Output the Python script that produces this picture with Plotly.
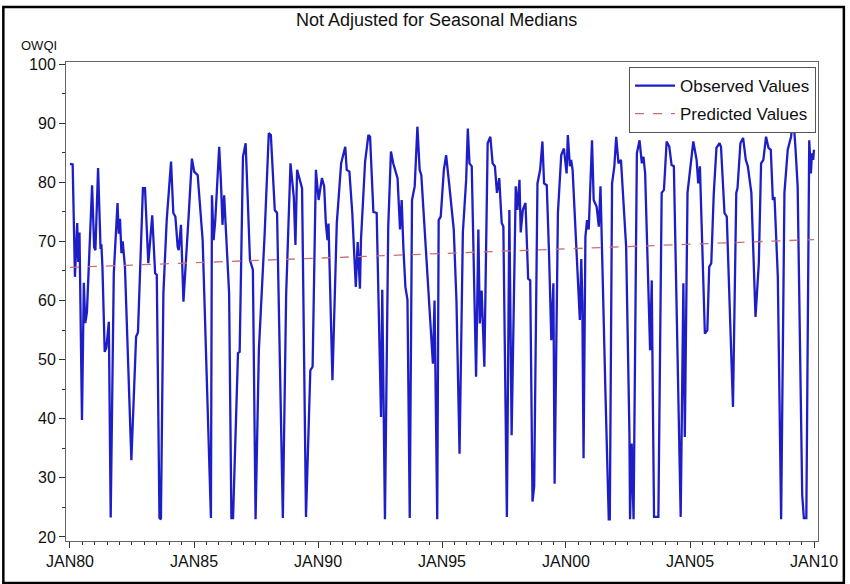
import pandas as pd
import plotly.graph_objects as go

# month offsets from JAN80 of observed-line vertices, and their OWQI values
obs_month = [0, 1.3, 2.4, 3.5, 4.0, 4.6, 5.8, 6.7, 7.4, 8.2, 10.7, 11.7, 12.3, 13.6, 14.8, 15.2, 15.7, 16.8, 17.6, 18.8,
             19.7, 21.2, 23.0, 23.6, 24.2, 24.9, 25.5, 26.6, 29.7, 32.0, 32.9, 35.3, 36.3, 37.9, 39.8, 41.2, 42.0, 43.3, 44.0,
             45.2, 46.8, 48.9, 50.0, 51.0, 52.1, 52.6, 53.7, 54.9, 57.4, 59.0, 60.1, 61.8, 64.2, 68.2, 68.7, 69.5, 70.3,
             72.2, 73.0, 73.8, 74.6, 77.0, 78.1, 78.9, 81.3, 82.1, 83.7, 85.0, 87.1, 88.5, 89.8, 91.4, 94.2, 96.2, 97.2,
             99.1, 100.2, 103.0, 104.6, 106.7, 108.3, 109.1, 109.9, 112.3, 114.2, 116.3, 117.4, 119.0, 120.3, 121.9, 123.0,
             123.8, 124.6, 125.1, 127.0, 129.1, 131.2, 133.2, 133.9, 135.2, 136.6, 138.3, 139.2, 140.3, 140.8, 142.8, 144.4,
             145.2, 146.8, 148.4, 150.5, 151.1, 151.6, 152.4, 154.0, 155.3, 156.4, 158.5, 159.7, 160.5, 161.3, 162.3, 163.3,
             164.4, 165.5, 166.8, 168.1, 169.2, 170.0, 172.4, 174.8, 175.6, 176.4, 177.7, 178.4, 179.4, 180.9, 182.0, 183.6,
             185.7, 187.0, 188.5, 190.1, 191.7, 192.5, 193.3, 194.4, 196.5, 197.6, 198.3, 199.2, 199.7, 200.5, 202.1, 203.4,
             204.5, 205.6, 206.6, 207.7, 208.9, 209.7, 211.4, 212.6, 213.7, 215.0, 215.7, 216.5, 217.5, 218.1, 219.1, 220.4,
             221.7, 222.7, 223.8, 224.6, 226.2, 227.5, 228.6, 229.4, 230.7, 231.8, 232.9, 233.9, 234.5, 236.1, 237.7, 239.0,
             240.3, 240.9, 241.9, 242.5, 243.2, 246.7, 247.4, 247.9, 248.5, 249.4, 250.2, 251.0, 252.6, 253.4, 254.8, 255.9,
             256.7, 259.1, 260.7, 261.2, 262.3, 263.4, 264.3, 265.4, 266.6, 269.1, 270.7, 271.0, 271.8, 272.7, 274.3, 275.6,
             276.7, 277.5, 278.3, 280.7, 281.5, 282.0, 282.6, 284.7, 286.3, 287.4, 288.7, 290.0, 291.1, 292.2, 295.5, 296.8,
             297.5, 298.8, 299.9, 301.6, 303.2, 304.0, 304.8, 307.2, 308.4, 309.3, 310.3, 311.5, 312.8, 314.3, 315.0, 316.7,
             317.8, 320.8, 322.4, 323.0, 324.4, 325.7, 327.0, 328.0, 329.7, 331.7, 333.3, 334.4, 335.5, 336.8, 338.0, 339.1,
             340.1, 340.9, 342.5, 344.1, 345.7, 347.3, 348.9, 350.0, 351.0, 352.1, 354.3, 355.1, 356.3, 357.7, 358.5, 359.0,
             359.6, 360.0]
obs_value = [83.1, 83.0, 64.0, 73.1, 66.5, 71.5, 39.8, 63.0, 56.2, 58.0, 79.5, 69.0, 68.5, 82.4, 68.7, 69.5, 65.7, 51.3, 52.0, 56.4,
             23.3, 64.6, 76.5, 71.3, 73.8, 68.0, 70.0, 65.7, 33.0, 53.9, 54.6, 79.0, 79.0, 66.3, 74.4, 64.6, 64.3, 23.2, 23.0,
             61.2, 73.6, 83.5, 74.8, 74.2, 69.1, 68.5, 72.8, 59.8, 74.2, 84.0, 81.8, 81.2, 70.2, 23.2, 77.8, 70.2, 73.6,
             86.0, 80.4, 72.8, 77.8, 61.2, 23.2, 23.2, 51.1, 51.3, 84.3, 86.6, 66.8, 65.2, 23.0, 51.6, 71.3, 88.3, 88.0,
             75.3, 74.8, 23.2, 61.0, 83.2, 77.5, 69.4, 82.1, 79.0, 23.4, 48.2, 48.8, 82.1, 77.0, 80.7, 79.3,
             73.1, 70.2, 73.0, 46.5, 73.1, 83.2, 86.0, 82.1, 81.8, 74.8, 62.3, 69.9, 62.0, 70.2, 83.5, 88.0,
             87.7, 75.0, 74.8, 40.3, 61.8, 47.0, 23.0, 72.5, 85.2, 83.2, 80.7, 72.0, 77.0, 69.1, 62.3, 60.1,
             23.2, 77.0, 79.3, 89.4, 82.1, 81.2, 67.4, 52.4, 49.3, 60.0, 23.0, 73.6, 74.2, 82.1, 84.6, 79.3,
             72.0, 60.0, 34.1, 71.5, 80.4, 89.1, 83.2, 82.7, 47.1, 72.0, 56.1, 61.7, 56.1, 48.8, 86.6, 87.7,
             83.2, 82.7, 78.2, 80.7, 73.1, 72.5, 23.4, 75.3, 37.2, 69.0, 79.3, 75.3, 80.4, 71.5, 75.3, 76.5,
             63.7, 63.4, 26.0, 28.5, 79.8, 82.1, 86.9, 79.8, 79.5, 67.9, 53.3, 62.9, 29.0, 74.8, 84.6, 85.7,
             81.5, 88.0, 82.7, 83.8, 82.1, 56.7, 67.0, 60.0, 33.3, 70.8, 73.6, 72.0, 87.1, 77.0, 75.9, 72.5,
             79.3, 44.3, 23.0, 23.0, 79.8, 82.7, 87.7, 83.2, 83.8, 69.1, 37.5, 23.0, 35.8, 23.0, 84.9, 87.1,
             83.2, 84.3, 81.5, 51.6, 63.4, 44.3, 23.4, 23.4, 78.2, 78.7, 86.9, 86.0, 82.9, 82.7, 23.4, 62.9,
             36.9, 78.2, 82.1, 86.9, 83.8, 79.8, 82.7, 54.4, 55.0, 65.7, 66.3, 78.0, 85.8, 86.6, 86.0, 74.8,
             74.2, 42.0, 78.2, 79.0, 86.6, 87.5, 83.8, 82.7, 78.2, 57.2, 66.3, 83.2, 83.8, 87.7, 85.8, 85.5,
             77.0, 77.5, 64.0, 23.0, 78.2, 85.5, 87.7, 91.1, 86.0, 79.3, 27.1, 23.2, 23.2, 87.1, 81.5, 84.9,
             83.8, 85.5]

# predicted (linear trend) end points
pred_month = [0, 360]
pred_value = [65.6, 70.3]

tick_dates = ["1980-01-01", "1985-01-01", "1990-01-01", "1995-01-01", "2000-01-01", "2005-01-01", "2010-01-01"]
tick_labels = ["JAN80", "JAN85", "JAN90", "JAN95", "JAN00", "JAN05", "JAN10"]

base = pd.Timestamp("1980-01-01")
def to_dates(months):
    return [base + pd.Timedelta(days=m * 30.4375) for m in months]

FONT = "Liberation Sans, Arial, sans-serif"

fig = go.Figure()
fig.add_trace(go.Scatter(x=to_dates(obs_month), y=obs_value, mode="lines", name="Observed Values",
                         legendgroup="obs", line=dict(color="#1e1ec8", width=2.3)))
fig.add_trace(go.Scatter(x=to_dates(pred_month), y=pred_value, mode="lines", name="Predicted Values",
                         legendgroup="pred", line=dict(color="#c87070", width=1.3, dash="dash")))

W, H = 850, 584
ml, mr, mt, mb = 66, 28, 62, 43
pw, ph = W - ml - mr, H - mt - mb
def px(x):
    return (x - ml) / pw
def py(y):
    return (H - mb - y) / ph

fig.update_layout(
    width=W, height=H,
    margin=dict(l=ml, r=mr, t=mt, b=mb),
    paper_bgcolor="white", plot_bgcolor="white",
    font=dict(family=FONT, size=13, color="#111111"),
    showlegend=True,
    legend=dict(x=px(820), y=py(67), xanchor="right", yanchor="top",
                bordercolor="#555555", borderwidth=1, bgcolor="white",
                font=dict(family=FONT, size=17, color="#111111"),
                traceorder="grouped", tracegroupgap=3, itemwidth=40),
    annotations=[
        dict(text="Not Adjusted for Seasonal Medians", xref="paper", yref="paper",
             x=px(438), y=py(20), xanchor="center", yanchor="middle",
             showarrow=False, font=dict(family=FONT, size=18, color="#111111")),
        dict(text="OWQI", xref="paper", yref="paper", x=px(19), y=py(45),
             xanchor="left", yanchor="middle", showarrow=False,
             font=dict(family=FONT, size=13, color="#111111")),
    ],
    shapes=[
        dict(type="rect", xref="paper", yref="paper", x0=px(3), x1=px(848), y0=py(583), y1=py(7),
             line=dict(color="black", width=2.5), fillcolor="rgba(0,0,0,0)", layer="below"),
    ],
)

x0 = base + pd.Timedelta(days=-58.6)
x1 = pd.Timestamp("2010-01-01") + pd.Timedelta(days=58.6)
fig.update_xaxes(type="date", range=[x0, x1], tickmode="array", tickvals=tick_dates, ticktext=tick_labels,
                 ticks="outside", ticklen=6, tickcolor="#333333", showgrid=False, zeroline=False,
                 showline=True, linecolor="#666666", linewidth=1, mirror=True,
                 tickfont=dict(family=FONT, size=16, color="#111111"),
                 minor=dict(dtick="M6", ticks="outside", ticklen=3, tickcolor="#333333", showgrid=False))
fig.update_yaxes(range=[19.32, 100.34], tickmode="linear", tick0=20, dtick=10,
                 ticks="outside", ticklen=6, tickcolor="#333333", showgrid=False, zeroline=False,
                 showline=True, linecolor="#666666", linewidth=1, mirror=True,
                 tickfont=dict(family=FONT, size=16, color="#111111"),
                 minor=dict(dtick=5, ticks="outside", ticklen=3, tickcolor="#333333", showgrid=False))

fig.write_html("out.html")
